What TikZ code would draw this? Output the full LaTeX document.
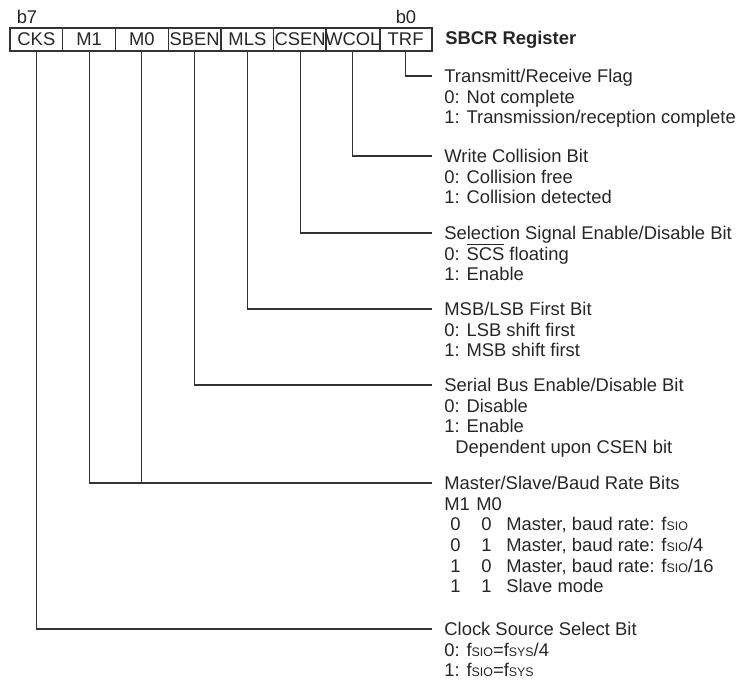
\documentclass[tikz,border=0pt]{standalone}
\usepackage{fontspec}
\setmainfont{Liberation Sans}
\usetikzlibrary{calc,positioning}

\newcommand{\fsub}[1]{f{\fontsize{6.2pt}{6.2pt}\selectfont #1}}
\newcommand{\ovl}[1]{{\setbox0\hbox{#1}\rlap{\rule[7.4pt]{\wd0}{0.5pt}}\box0}}
\newcommand{\mrow}[3]{\makebox[11pt][c]{#1}\makebox[20pt][c]{#2}#3}

\begin{document}
\begin{tikzpicture}[x=0.5pt, y=-0.5pt,
    font=\fontsize{9.2pt}{10.35pt}\selectfont,
    every node/.style={text=black!85},
    cell/.style={draw=black!80, line width=0.6pt, minimum width=26.375pt, minimum height=11.5pt, inner sep=0pt, outer sep=0pt},
    desc/.style={anchor=north west, align=left, inner sep=0pt, execute at begin node=\rule{0pt}{8pt}},
    wire/.style={draw=black!80, line width=0.6pt}]
    \useasboundingbox (0,0) rectangle (752,684);
    \foreach \name [count=\i] in {CKS,M1,M0,SBEN,MLS,CSEN,WCOL,TRF}
        \node[cell] (c\i) at ({10+52.75*(\i-0.5)},39.5) {\name};
    \node (b7) at (27,17) {b7};
    \node (b0) at (406,17) {b0};
    \node[anchor=west, inner sep=0pt, font=\bfseries\fontsize{9.2pt}{10.35pt}\selectfont] (title) at (445,39.5) {SBCR Register};
    \node[desc] (dtrf) at (444,68.6) {Transmitt/Receive Flag\\0: Not complete\\1: Transmission/reception complete};
    \node[desc] (dwcol) at (444,148.6) {Write Collision Bit\\0: Collision free\\1: Collision detected};
    \node[desc] (dcsen) at (444,225.6) {Selection Signal Enable/Disable Bit\\0: \ovl{SCS} floating\\1: Enable};
    \node[desc] (dmls) at (444,301.6) {MSB/LSB First Bit\\0: LSB shift first\\1: MSB shift first};
    \node[desc] (dsben) at (444,377.6) {Serial Bus Enable/Disable Bit\\0: Disable\\1: Enable\\\hspace*{5.5pt}Dependent upon CSEN bit};
    \node[desc] (dm) at (444,475.6) {Master/Slave/Baud Rate Bits\\\makebox[16pt][l]{M1}M0\\
        \mrow{0}{0}{Master, baud rate: \fsub{SIO}}\\
        \mrow{0}{1}{Master, baud rate: \fsub{SIO}/4}\\
        \mrow{1}{0}{Master, baud rate: \fsub{SIO}/16}\\
        \mrow{1}{1}{Slave mode}};
    \node[desc] (dcks) at (444,621.6) {Clock Source Select Bit\\0: \fsub{SIO}=\fsub{SYS}/4\\1: \fsub{SIO}=\fsub{SYS}};
    \foreach \c/\d in {c1/dcks,c2/dm,c4/dsben,c5/dmls,c6/dcsen,c7/dwcol,c8/dtrf}
        \draw[wire] (\c.south) |- ($(\d.north west)+(-12,7.4)$);
    \draw[wire] (c3.south) -- ($(c3.south |- dm.north west)+(0,7.4)$);
\end{tikzpicture}
\end{document}
